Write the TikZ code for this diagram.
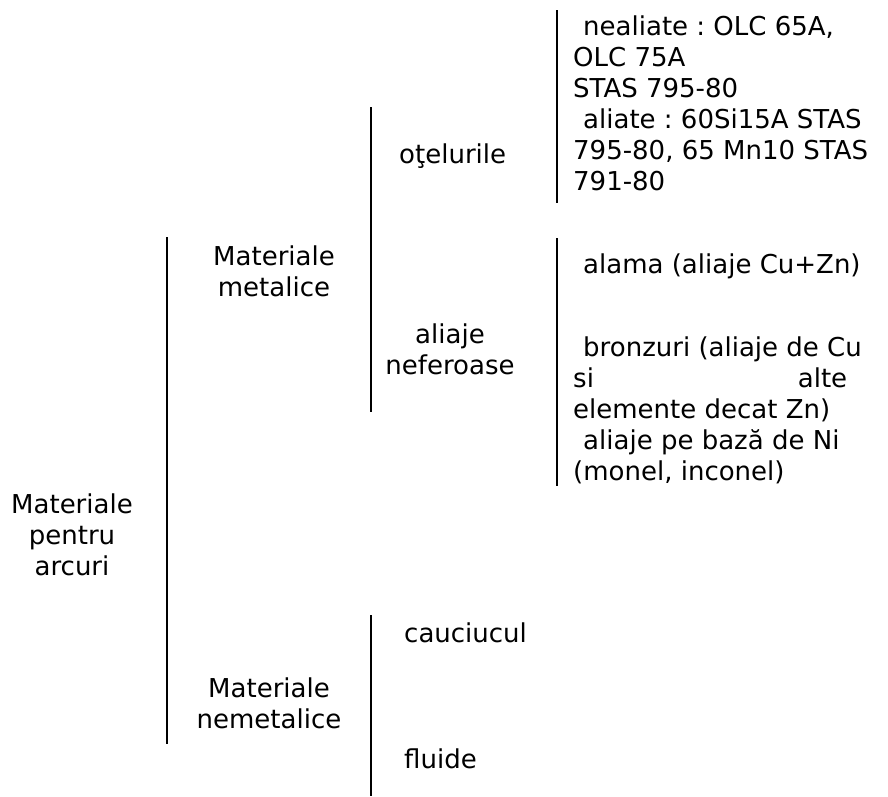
\documentclass[tikz,border=0pt]{standalone}
\usepackage{fontspec}
\setmainfont{DejaVu Sans}
\usepackage{tikz}
\frenchspacing
\tikzset{lbl/.style={inner sep=0pt, font=\fontsize{26}{31}\selectfont},
  bar/.style={line width=2.5pt}}

\begin{document}
\begin{tikzpicture}[x=1pt,y=-1pt]
  \useasboundingbox (0,0) rectangle (888,796);
  % bracket ends
  \coordinate (b1t) at (167,237); \coordinate (b1b) at (167,744);
  \coordinate (b2t) at (371,107); \coordinate (b2b) at (371,412);
  \coordinate (b3t) at (557,10);  \coordinate (b3b) at (557,203);
  \coordinate (b4t) at (557,238); \coordinate (b4b) at (557,486);
  \coordinate (b5t) at (371,615); \coordinate (b5b) at (371,796);
  \draw[bar] (b1t) -- (b1b);
  \draw[bar] (b2t) -- (b2b);
  \draw[bar] (b3t) -- (b3b);
  \draw[bar] (b4t) -- (b4b);
  \draw[bar] (b5t) -- (b5b);
  % levels (base = last line)
  \node[lbl,align=center,anchor=base] (arcuri) at (72,575) {Materiale\\pentru\\arcuri};
  \node[lbl,align=center,anchor=base] (metalice) at (274,296) {Materiale\\metalice};
  \node[lbl,align=center,anchor=base] (nemetalice) at (269,728) {Materiale\\nemetalice};
  \node[lbl,anchor=base west] (otel) at (399,163) {oţelurile};
  \node[lbl,align=center,anchor=base] (neferoase) at (450,374) {aliaje\\neferoase};
  \node[lbl,anchor=base west] (cauciuc) at (404,642) {cauciucul};
  \node[lbl,anchor=base west] (fluide) at (404,768) {fluide};
  % right column
  \node[lbl,align=left,anchor=base west] (marci) at (573,190)
    {\hspace*{10pt}nealiate : OLC 65A,\\OLC 75A\\STAS 795-80\\
     \hspace*{10pt}aliate : 60Si15A STAS\\795-80, 65 Mn10 STAS\\791-80};
  \node[lbl,anchor=base west] (alama) at (583,273) {alama (aliaje Cu+Zn)};
  \node[lbl,align=left,anchor=base west] (bronz) at (573,480)
    {\hspace*{10pt}bronzuri (aliaje de Cu\\\hbox to 274pt{si\hfill alte}\\
     elemente decat Zn)\\\hspace*{10pt}aliaje pe bază de Ni\\(monel, inconel)};
\end{tikzpicture}
\end{document}
